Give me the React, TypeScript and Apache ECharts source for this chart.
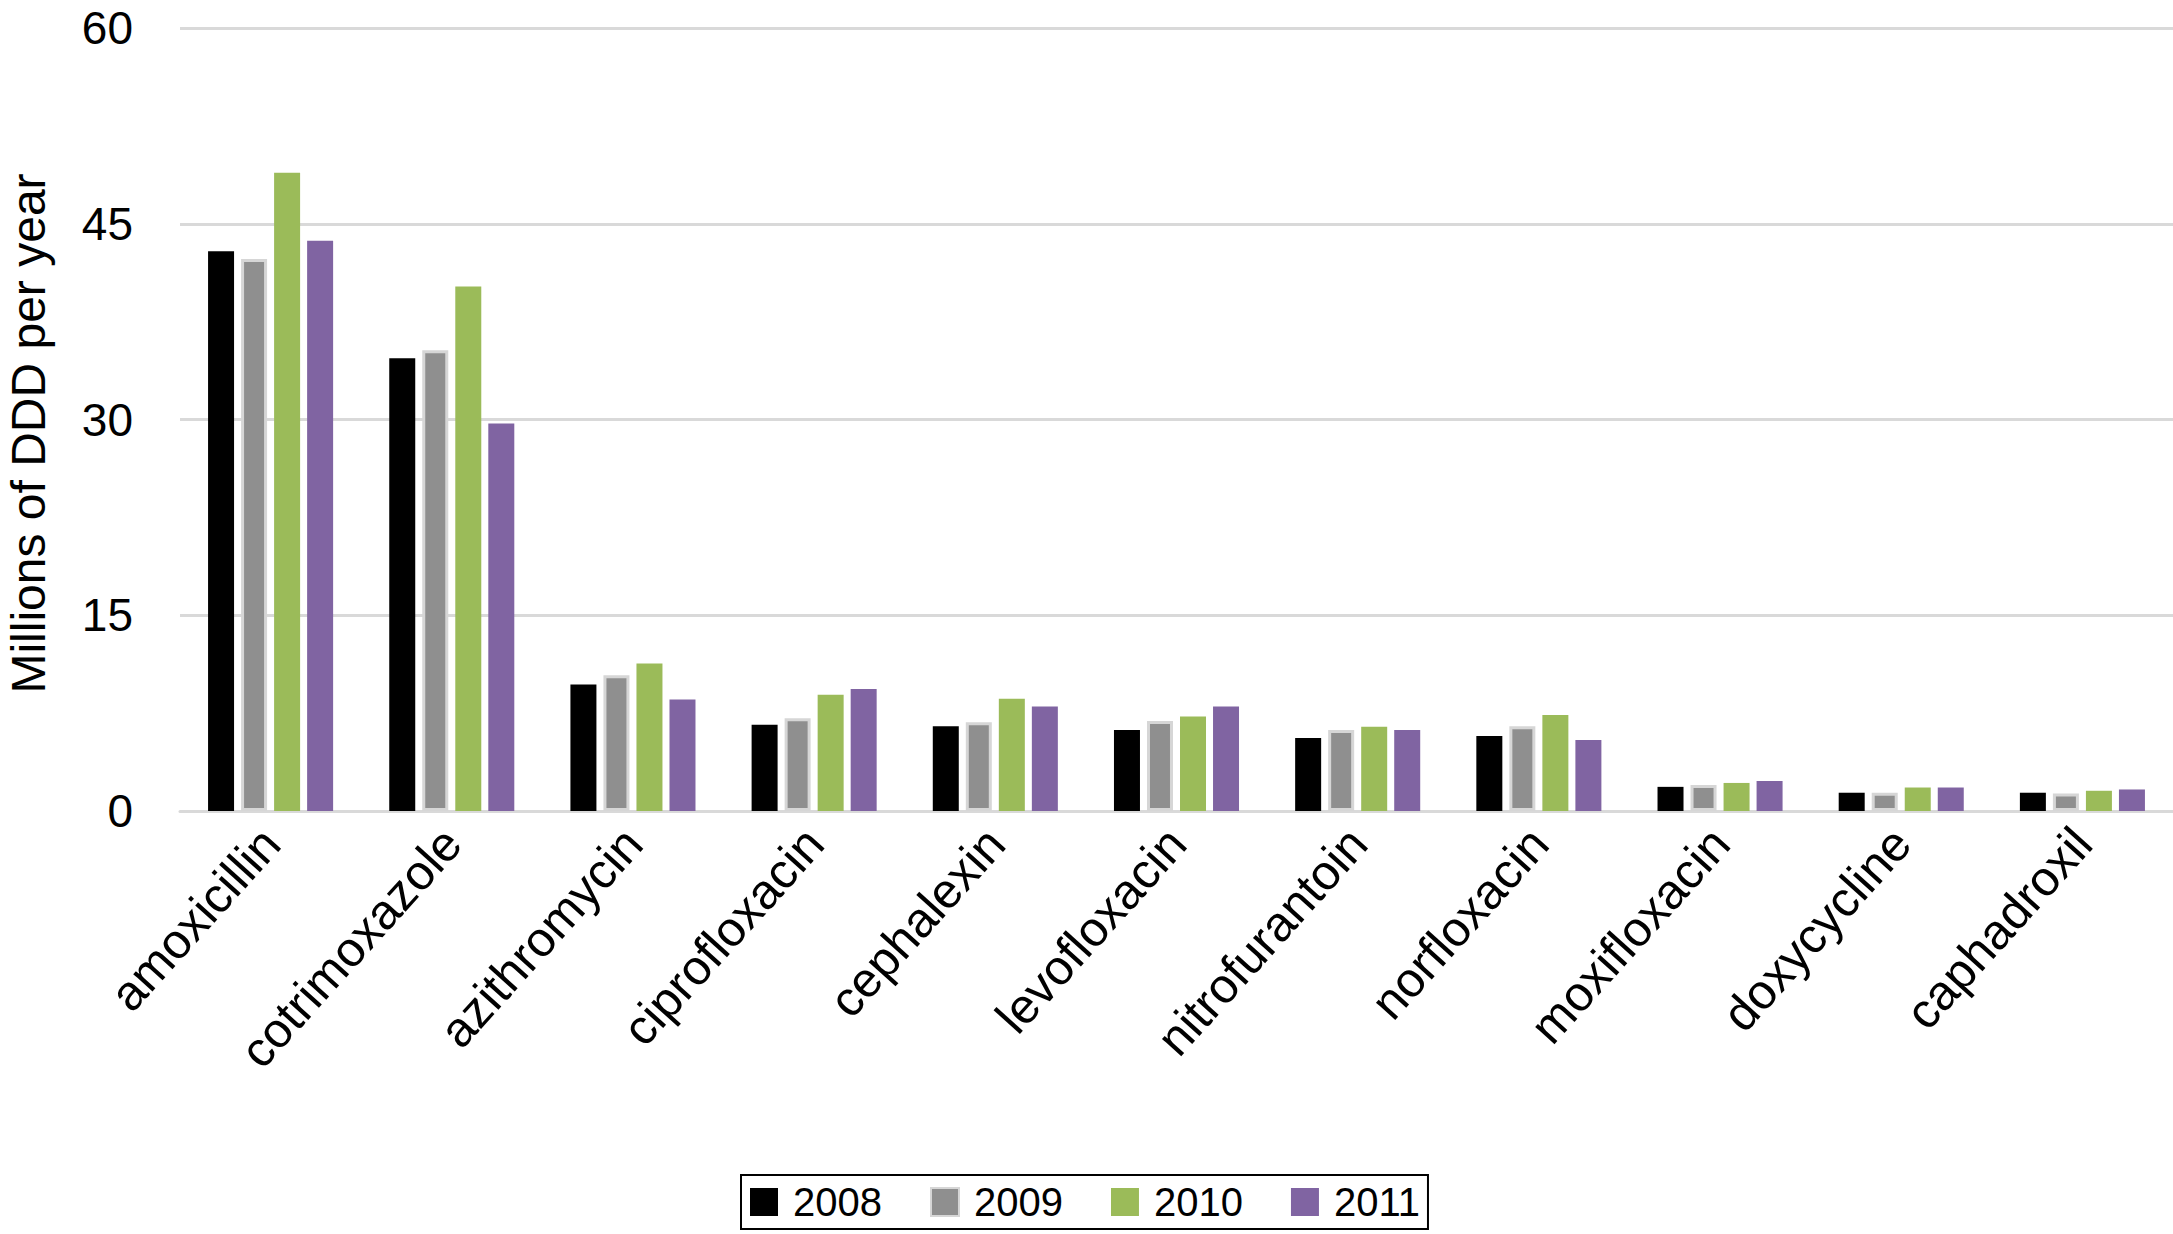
import React, { useEffect, useRef } from "react";
import * as echarts from "echarts";

const categories = [
  "amoxicillin",
  "cotrimoxazole",
  "azithromycin",
  "ciprofloxacin",
  "cephalexin",
  "levofloxacin",
  "nitrofurantoin",
  "norfloxacin",
  "moxifloxacin",
  "doxycycline",
  "caphadroxil",
];
const years = ["2008", "2009", "2010", "2011"];
const values2008 = [42.9, 34.7, 9.7, 6.6, 6.5, 6.2, 5.6, 5.75, 1.85, 1.4, 1.4];
const values2009 = [42.3, 35.3, 10.4, 7.1, 6.8, 6.9, 6.2, 6.5, 2.0, 1.4, 1.35];
const values2010 = [48.9, 40.2, 11.3, 8.9, 8.6, 7.25, 6.45, 7.35, 2.15, 1.8, 1.55];
const values2011 = [43.7, 29.7, 8.55, 9.35, 8.0, 8.0, 6.2, 5.45, 2.3, 1.8, 1.65];
const yTicks = [0, 15, 30, 45, 60];
const yAxisTitle = "Millions of DDD per year";

const colors = ["#000000", "#8f8f8f", "#9bbb59", "#8064a2"];

export default function App() {
  const ref = useRef<HTMLDivElement>(null);
  useEffect(() => {
    if (!ref.current) return;
    const chart = echarts.init(ref.current, null, { renderer: "svg" });
    const seriesValues = [values2008, values2009, values2010, values2011];
    const font = "'Liberation Sans', Arial, Helvetica, sans-serif";
    chart.setOption({
      animation: false,
      backgroundColor: "#ffffff",
      textStyle: { fontFamily: font },
      grid: {
        left: 180,
        right: 0,
        top: 28,
        bottom: 423,
        containLabel: false,
        outerBoundsMode: "none",
      },
      legend: {
        data: years,
        left: 741,
        top: 1175,
        orient: "horizontal",
        itemWidth: 28,
        itemHeight: 28,
        itemGap: 48,
        padding: [7, 8, 7, 9],
        borderColor: "#000000",
        borderWidth: 2,
        icon: "rect",
        textStyle: {
          fontFamily: font,
          fontSize: 40,
          color: "#000000",
          padding: [0, 0, 0, 10],
        },
      },
      xAxis: {
        type: "category",
        data: categories,
        axisLine: { lineStyle: { color: "#d9d9d9", width: 3 } },
        axisTick: { show: false },
        axisLabel: {
          rotate: 48,
          fontSize: 49,
          color: "#000000",
          margin: 24,
          interval: 0,
          fontFamily: font,
        },
      },
      yAxis: {
        type: "value",
        min: yTicks[0],
        max: yTicks[yTicks.length - 1],
        interval: 15,
        name: yAxisTitle,
        nameLocation: "middle",
        nameGap: 128,
        nameRotate: 90,
        nameTextStyle: {
          fontSize: 48,
          lineHeight: 48,
          color: "#000000",
          fontFamily: font,
          padding: [0, 28, 0, 0],
        },
        axisLine: { show: false },
        axisTick: { show: false },
        splitLine: { lineStyle: { color: "#d9d9d9", width: 3 } },
        axisLabel: { fontSize: 46, color: "#000000", margin: 47, fontFamily: font },
      },
      series: years.map((y, i) => ({
        name: y,
        type: "bar",
        data: seriesValues[i],
        barWidth: 26,
        barGap: "27%",
        itemStyle:
          i === 1
            ? { color: colors[i], borderColor: "#d6d6d6", borderWidth: 3 }
            : { color: colors[i] },
      })),
    });
    return () => chart.dispose();
  }, []);
  return (
    <div
      ref={ref}
      style={{ position: "fixed", left: 0, top: 0, width: 2173, height: 1234 }}
    />
  );
}
